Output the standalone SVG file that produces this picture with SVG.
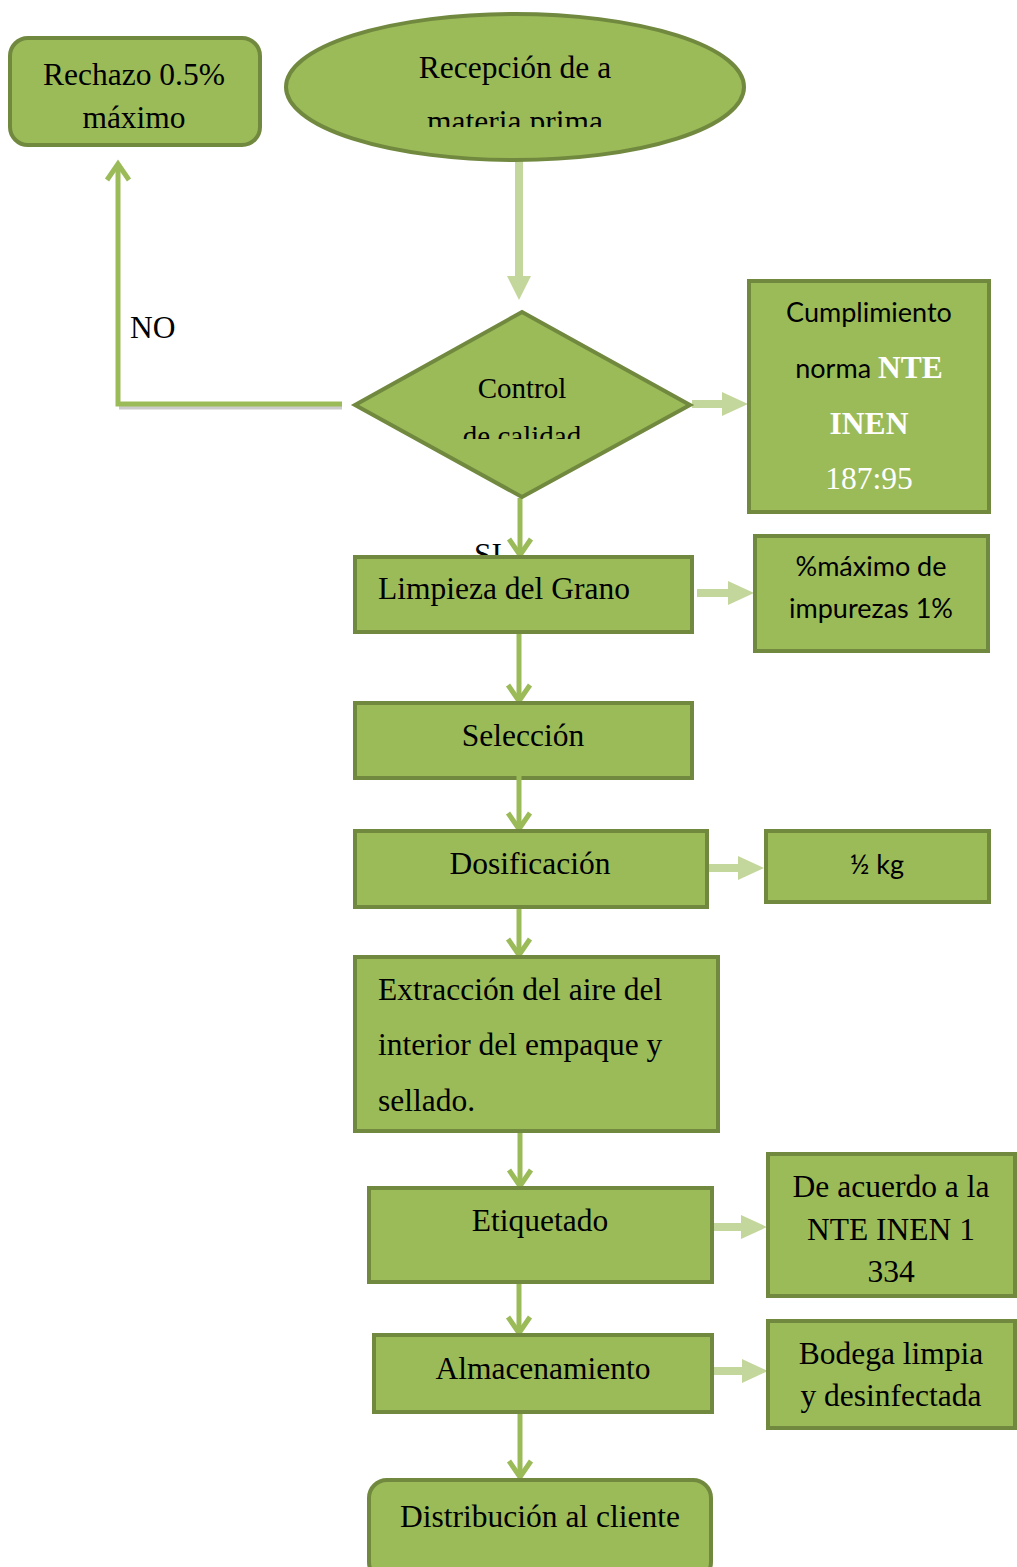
<svg xmlns="http://www.w3.org/2000/svg" width="1017" height="1567" viewBox="0 0 1017 1567">
  <defs>
    <style>
      .box { fill: #9BBB59; stroke: #71893F; stroke-width: 4; }
      .serif { font-family: "Liberation Serif", "Times New Roman", serif; font-size: 31.5px; fill: #000; }
      .sans { font-family: Lato, "Noto Sans", "Liberation Sans", sans-serif; font-size: 27px; fill: #000; }
      .mid { text-anchor: middle; }
      .flow { fill: none; stroke: #9BBB59; stroke-width: 5; }
      .flow-shadow { fill: none; stroke: #8c8c8c; stroke-width: 5; opacity: 0.45; }
      .note-arrow { fill: #C3D69B; }
      .white { font-family: "Liberation Serif", "Times New Roman", serif; font-size: 31.5px; fill: #fff; }
    </style>
    <marker id="chevron" viewBox="0 0 32 32" refX="25" refY="16" markerWidth="32" markerHeight="32" markerUnits="userSpaceOnUse" orient="auto">
      <path d="M9 5 L25 16 L9 27" fill="none" stroke="#9BBB59" stroke-width="5" stroke-linejoin="miter"/>
    </marker>
    <clipPath id="clipEllipse">
      <rect x="280" y="0" width="480" height="127"/>
    </clipPath>
    <clipPath id="clipDiamond">
      <rect x="340" y="300" width="360" height="139"/>
    </clipPath>
  </defs>

  <!-- connectors -->
  <g id="connectors">
    <!-- reception to quality control (light block arrow) -->
    <path class="note-arrow" d="M515 161 H523 V276 H531 L519 300 L507 276 H515 Z"/>
    <!-- NO branch back to rejection -->
    <path class="flow-shadow" d="M342 407 H119"/>
    <path class="flow" d="M342 404 H118 V164" marker-end="url(#chevron)"/>
    <!-- control to standard compliance -->
    <path class="note-arrow" d="M692 400 H722 V392 L748 404 L722 416 V408 H692 Z"/>
    <!-- SI branch -->
    <path class="flow" d="M520 498 V555" marker-end="url(#chevron)"/>
    <!-- cleaning to impurity limit -->
    <path class="note-arrow" d="M697 589 H728 V581 L754 593 L728 605 V597 H697 Z"/>
    <!-- cleaning to selection -->
    <path class="flow" d="M519 632 V701" marker-end="url(#chevron)"/>
    <!-- dosing to weight -->
    <path class="note-arrow" d="M707 864 H738 V856 L764 868 L738 880 V872 H707 Z"/>
    <!-- dosing to extraction -->
    <path class="flow" d="M519 907 V955" marker-end="url(#chevron)"/>
    <!-- extraction to labelling -->
    <path class="flow" d="M520 1131 V1186" marker-end="url(#chevron)"/>
    <!-- labelling to standard -->
    <path class="note-arrow" d="M712 1223 H741 V1215 L767 1227 L741 1239 V1231 H712 Z"/>
    <!-- labelling to storage -->
    <path class="flow" d="M519 1284 V1333" marker-end="url(#chevron)"/>
    <!-- storage to warehouse conditions -->
    <path class="note-arrow" d="M712 1367 H742 V1359 L768 1371 L742 1383 V1375 H712 Z"/>
    <!-- storage to distribution -->
    <path class="flow" d="M520 1412 V1477" marker-end="url(#chevron)"/>
  </g>

  <!-- labels on branches -->
  <text class="serif" x="130" y="338">NO</text>
  <text class="serif" x="474" y="565">SI</text>

  <g id="rechazo">
    <rect class="box" x="10" y="38" width="250" height="107" rx="18"/>
    <text class="serif mid" x="134" y="85">Rechazo 0.5%</text>
    <text class="serif mid" x="134" y="128">máximo</text>
  </g>

  <g id="recepcion">
    <ellipse class="box" cx="515" cy="87" rx="229" ry="73"/>
    <g clip-path="url(#clipEllipse)">
      <text class="serif mid" x="515" y="78">Recepción de a</text>
      <text class="serif mid" x="515" y="132">materia prima</text>
    </g>
  </g>

  <g id="control">
    <polygon class="box" points="522,312 690,405 522,497 355,405"/>
    <g clip-path="url(#clipDiamond)" font-size="29px">
      <text class="serif mid" x="522" y="398" style="font-size:29px">Control</text>
      <text class="serif mid" x="522" y="446" style="font-size:29px">de calidad</text>
    </g>
  </g>

  <g id="cumplimiento">
    <rect class="box" x="749" y="281" width="240" height="231"/>
    <text class="sans mid" x="869" y="322">Cumplimiento</text>
    <text class="mid" x="869" y="378"><tspan class="sans">norma </tspan><tspan class="white" font-weight="bold">NTE</tspan></text>
    <text class="white mid" x="869" y="434" font-weight="bold">INEN</text>
    <text class="white mid" x="869" y="489">187:95</text>
  </g>

  <g id="limpieza">
    <rect class="box" x="355" y="557" width="337" height="75"/>
    <text class="serif" x="378" y="599">Limpieza del Grano</text>
  </g>

  <g id="impurezas">
    <rect class="box" x="755" y="536" width="233" height="115"/>
    <text class="sans mid" x="871" y="576">%máximo de</text>
    <text class="sans mid" x="871" y="618">impurezas 1%</text>
  </g>

  <g id="seleccion">
    <rect class="box" x="355" y="703" width="337" height="75"/>
    <text class="serif mid" x="523" y="746">Selección</text>
  </g>

  <!-- selection to dosing, starting inside the selection box -->
  <path class="flow" d="M519 762 V829" marker-end="url(#chevron)"/>

  <g id="dosificacion">
    <rect class="box" x="355" y="831" width="352" height="76"/>
    <text class="serif mid" x="530" y="874">Dosificación</text>
  </g>

  <g id="peso">
    <rect class="box" x="766" y="831" width="223" height="71"/>
    <text class="sans mid" x="877" y="874">½ kg</text>
  </g>

  <g id="extraccion">
    <rect class="box" x="355" y="957" width="363" height="174"/>
    <text class="serif" x="378" y="1000">Extracción del aire del</text>
    <text class="serif" x="378" y="1055">interior del empaque y</text>
    <text class="serif" x="378" y="1111">sellado.</text>
  </g>

  <g id="etiquetado">
    <rect class="box" x="369" y="1188" width="343" height="94"/>
    <text class="serif mid" x="540" y="1231">Etiquetado</text>
  </g>

  <g id="norma-etiquetado">
    <rect class="box" x="768" y="1154" width="247" height="142"/>
    <text class="serif mid" x="891" y="1197">De acuerdo a la</text>
    <text class="serif mid" x="891" y="1240">NTE INEN 1</text>
    <text class="serif mid" x="891" y="1282">334</text>
  </g>

  <g id="almacenamiento">
    <rect class="box" x="374" y="1335" width="338" height="77"/>
    <text class="serif mid" x="543" y="1379">Almacenamiento</text>
  </g>

  <g id="bodega">
    <rect class="box" x="768" y="1321" width="247" height="107"/>
    <text class="serif mid" x="891" y="1364">Bodega limpia</text>
    <text class="serif mid" x="891" y="1406">y desinfectada</text>
  </g>

  <g id="distribucion">
    <rect class="box" x="369" y="1480" width="342" height="100" rx="18"/>
    <text class="serif mid" x="540" y="1527">Distribución al cliente</text>
  </g>
</svg>
